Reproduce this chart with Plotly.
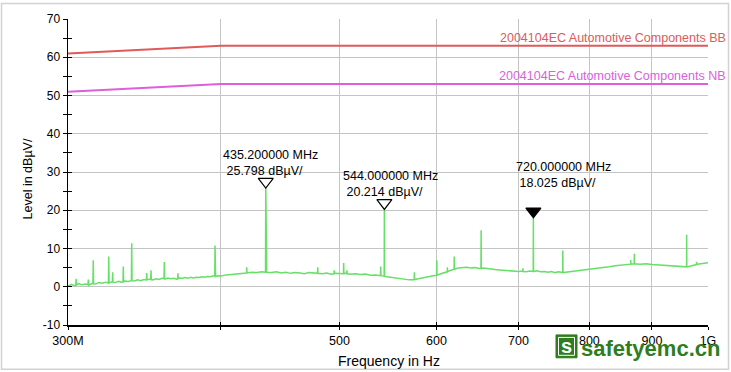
import numpy as np
import plotly.graph_objects as go

# ---------------- data ----------------
floor_freq = [300, 302, 304, 306, 308, 310, 312, 314, 316, 318, 320, 322, 324, 326, 328, 330,
              332, 334, 336, 338, 340, 342, 344, 346, 348, 350, 352, 354, 356, 358, 360, 362,
              364, 366, 368, 370, 372, 374, 376, 378, 380, 382, 384, 386, 388, 390, 392, 394,
              396, 398, 400, 404, 408, 412, 416, 420, 424, 428, 432, 436, 440, 444, 448, 452,
              456, 460, 464, 468, 472, 476, 480, 484, 488, 492, 496, 500, 505, 510, 515, 520,
              525, 530, 535, 540, 545, 550, 555, 560, 565, 570, 575, 580, 585, 590, 595, 600,
              605, 610, 615, 620, 625, 630, 635, 640, 645, 650, 655, 660, 665, 670, 675, 680,
              685, 690, 695, 700, 705, 710, 715, 720, 725, 730, 735, 740, 745, 750, 755, 760,
              765, 770, 775, 780, 785, 790, 795, 800, 810, 820, 830, 840, 850, 860, 870, 880,
              890, 900, 910, 920, 930, 940, 950, 960, 970, 980, 990, 1000]
floor_level = [0.2, 0.6, 0.3, 0.8, 0.5, 0.7, 0.4, 0.9, 0.7, 1.1, 0.9, 1.2, 1.0, 1.3, 1.1, 1.4,
               1.2, 1.5, 1.4, 1.7, 1.5, 1.8, 1.6, 1.9, 1.7, 2.0, 1.8, 2.1, 1.9, 2.2, 2.0, 2.3,
               2.1, 2.2, 2.0, 2.3, 2.2, 2.4, 2.2, 2.5, 2.3, 2.5, 2.4, 2.6, 2.5, 2.7, 2.6, 2.8,
               2.7, 2.9, 2.8, 3.1, 3.2, 3.4, 3.5, 3.6, 3.8, 3.7, 3.9, 3.8, 3.7, 3.9, 3.6, 3.8,
               3.5, 3.7, 3.6, 3.4, 3.7, 3.5, 3.6, 3.4, 3.6, 3.3, 3.5, 3.4, 3.5, 3.3, 3.4, 3.2,
               3.3, 3.0, 3.1, 2.9, 2.7, 2.5, 2.3, 2.1, 2.0, 1.8, 1.9, 2.1, 2.4, 2.6, 2.8, 3.0,
               3.4, 3.8, 4.2, 4.6, 4.9, 5.0, 5.1, 4.9, 5.0, 4.8, 4.9, 4.7, 4.6, 4.5, 4.4, 4.3,
               4.2, 4.1, 4.2, 4.0, 4.1, 3.9, 4.1, 4.0, 4.2, 3.9, 4.0, 3.8, 4.0, 3.7, 3.9, 3.7,
               3.8, 3.9, 4.0, 4.1, 4.3, 4.4, 4.5, 4.6, 4.8, 5.0, 5.2, 5.5, 5.7, 5.9, 6.0, 5.9,
               6.0, 5.8, 5.7, 5.6, 5.5, 5.4, 5.3, 5.2, 5.5, 5.9, 6.1, 6.3]

spike_freq = [304.6, 311.7, 314.6, 323.9, 326.3, 332.9, 338.2, 347.9, 350.7, 359.6, 368.9,
              395.6, 419.9, 435.2, 479.9, 495.0, 503.9, 507.0, 540.3, 544.0, 575.6, 600.4,
              612.5, 620.4, 652.6, 706.0, 720.0, 761.0, 864.7, 870.6, 960.7, 978.7]
spike_peak = [2.1, 1.9, 6.9, 7.9, 3.8, 5.3, 11.4, 3.6, 4.3, 6.5, 3.5,
              10.8, 5.1, 25.798, 5.1, 4.3, 6.2, 4.3, 5.3, 20.214, 3.8, 6.9,
              5.1, 7.9, 14.8, 4.8, 18.025, 9.5, 7.0, 8.6, 13.6, 6.5]
spike_base = [0.4, 0.5, 0.8, 1.0, 1.2, 1.3, 1.6, 1.8, 1.9, 2.1, 2.1,
              2.8, 3.6, 3.8, 3.5, 3.4, 3.4, 3.4, 2.9, 2.8, 1.9, 3.0,
              3.9, 4.6, 4.8, 4.0, 4.0, 3.7, 5.9, 6.0, 5.2, 5.8]

limit_freq = [300, 400, 1000]
limit_bb = [61, 63, 63]
limit_nb = [51, 53, 53]
limit_names = ["2004104EC Automotive Components BB", "2004104EC Automotive Components NB"]

marker_freq = [435.2, 544.0, 720.0]
marker_level = [25.798, 20.214, 18.025]
marker_filled = [False, False, True]

x_tickvals = [300, 400, 500, 600, 700, 800, 900, 1000]
x_ticktext = ["300M", "", "500", "600", "700", "800", "900", "1G"]
y_tickvals = [-10, 0, 10, 20, 30, 40, 50, 60, 70]
y_ticktext = ["-10", "0", "10", "20", "30", "40", "50", "60", "70"]
y_range = [-10, 70]
x_range = [300, 1000]

# ---------------- styles ----------------
FONT = "Liberation Sans, Arial, sans-serif"
GREEN = "#66e066"
RED = "#e05a5a"
MAGENTA = "#dc5fdc"
GRID = "#c4c4c4"
W, H = 731, 372
ML, MR, MT, MB = 68, 23, 17, 47
plot_w = W - ML - MR
plot_h = H - MT - MB
label_xshift = [5, 6, 30]
label_yshift = [25, 25.5, 43]

# ---------------- build the measured trace ----------------
w = 0.2
pts = [(f, v) for f, v in zip(floor_freq, floor_level)
       if all(abs(f - s) > w for s in spike_freq)]
for f, p, b in zip(spike_freq, spike_peak, spike_base):
    pts += [(f - w, b), (f, p), (f + w, b)]
pts.sort()
trace_f = [p[0] for p in pts]
trace_v = [p[1] for p in pts]

fig = go.Figure()

fig.add_trace(go.Scatter(x=limit_freq, y=limit_bb, mode="lines",
                         line=dict(color=RED, width=2), hoverinfo="skip"))
fig.add_trace(go.Scatter(x=limit_freq, y=limit_nb, mode="lines",
                         line=dict(color=MAGENTA, width=2), hoverinfo="skip"))
fig.add_trace(go.Scatter(x=trace_f, y=trace_v, mode="lines",
                         line=dict(color=GREEN, width=1.5), hoverinfo="skip"))

# marker triangles sitting just above the peaks
units_per_px = (y_range[1] - y_range[0]) / plot_h
tri_off = 6.5 * units_per_px
fig.add_trace(go.Scatter(
    x=marker_freq,
    y=[v + tri_off for v in marker_level],
    mode="markers",
    marker=dict(symbol=["triangle-down" if m else "triangle-down-open" for m in marker_filled],
                size=13, color="black", line=dict(color="black", width=1.2)),
    hoverinfo="skip"))

# dummy trace for overlay axes (crossing ticks)
fig.add_trace(go.Scatter(x=[None], y=[None], xaxis="x2", yaxis="y2", hoverinfo="skip"))

annotations = []
for f, v, xs, ys in zip(marker_freq, marker_level, label_xshift, label_yshift):
    annotations.append(dict(
        x=np.log10(f), y=v, xref="x", yref="y",
        text=f"{f:.6f} MHz<br>\u00a0{v:.3f} dBµV/",
        showarrow=False, align="left", xanchor="center", yanchor="middle",
        xshift=xs, yshift=ys, font=dict(family=FONT, size=12.5, color="black")))

for name, vals, col in zip(limit_names, [limit_bb, limit_nb], [RED, MAGENTA]):
    annotations.append(dict(
        x=(W - 3 - ML) / plot_w, y=vals[-1], xref="paper", yref="y",
        text=name, showarrow=False, xanchor="right", yanchor="bottom",
        yshift=-1, font=dict(family=FONT, size=12.5, color=col)))

# axis titles
annotations.append(dict(x=(389 - ML) / plot_w, y=(plot_h + MT - 361) / plot_h,
                        xref="paper", yref="paper", text="Frequency in Hz",
                        showarrow=False, xanchor="center", yanchor="middle",
                        font=dict(family=FONT, size=14, color="black")))
annotations.append(dict(x=(27.5 - ML) / plot_w, y=(plot_h + MT - 178) / plot_h,
                        xref="paper", yref="paper", text="Level in dBµV/",
                        textangle=-90, showarrow=False, xanchor="center", yanchor="middle",
                        font=dict(family=FONT, size=12.5, color="black")))

# watermark
WM = "#2e7d1e"
def px_x(p):
    return (p - ML) / plot_w
def px_y(p):
    return (plot_h + MT - p) / plot_h

annotations.append(dict(x=px_x(579), y=px_y(349), xref="paper", yref="paper",
                        text="<b>safetyemc.cn</b>", showarrow=False,
                        xanchor="left", yanchor="middle",
                        font=dict(family=FONT, size=22, color=WM)))
annotations.append(dict(x=px_x(566.5), y=px_y(346), xref="paper", yref="paper",
                        text="<b>s</b>", showarrow=False,
                        xanchor="center", yanchor="middle",
                        font=dict(family=FONT, size=20, color="white")))

shapes = [
    dict(type="rect", xref="paper", yref="paper",
         x0=px_x(1.5), x1=px_x(728.5), y0=px_y(369.5), y1=px_y(1.5),
         line=dict(color="#d2d2d2", width=1.5), fillcolor="rgba(0,0,0,0)", layer="below"),
    dict(type="rect", xref="paper", yref="paper",
         x0=px_x(556), x1=px_x(577), y0=px_y(358), y1=px_y(335),
         line=dict(color=WM, width=1), fillcolor=WM, layer="above"),
    dict(type="rect", xref="paper", yref="paper",
         x0=px_x(558.5), x1=px_x(574.5), y0=px_y(355.5), y1=px_y(337.5),
         line=dict(color="white", width=1), fillcolor="rgba(0,0,0,0)", layer="above"),
]

xr = [np.log10(x_range[0]), np.log10(x_range[1])]
fig.update_layout(
    width=W, height=H,
    margin=dict(l=ML, r=MR, t=MT, b=MB, pad=0),
    paper_bgcolor="white", plot_bgcolor="white",
    showlegend=False, hovermode=False,
    font=dict(family=FONT, size=12, color="black"),
    xaxis=dict(type="log", range=xr, tickvals=x_tickvals, ticktext=x_ticktext,
               showgrid=True, gridcolor=GRID, gridwidth=1,
               showline=True, linecolor="black", linewidth=1.5,
               ticks="outside", ticklen=3, tickcolor="black", tickwidth=1,
               tickfont=dict(family=FONT, size=12.5), zeroline=False, fixedrange=True),
    yaxis=dict(range=y_range, tickvals=y_tickvals, ticktext=y_ticktext,
               showgrid=True, gridcolor=GRID, gridwidth=1,
               showline=True, linecolor="black", linewidth=1.5,
               ticks="outside", ticklen=4, tickcolor="black", tickwidth=1,
               minor=dict(dtick=5, ticks="outside", ticklen=4, tickcolor="black", showgrid=False),
               tickfont=dict(family=FONT, size=12), zeroline=False, fixedrange=True),
    xaxis2=dict(type="log", range=xr, tickvals=x_tickvals, overlaying="x", anchor="y",
                side="bottom", showgrid=False, showline=False, showticklabels=False,
                ticks="inside", ticklen=3, tickcolor="black", zeroline=False),
    yaxis2=dict(range=y_range, dtick=10, tick0=0, overlaying="y", anchor="x", side="left",
                showgrid=False, showline=False, showticklabels=False,
                ticks="inside", ticklen=4, tickcolor="black",
                minor=dict(dtick=5, ticks="inside", ticklen=4, tickcolor="black", showgrid=False),
                zeroline=False),
    annotations=annotations,
    shapes=shapes,
)

fig.write_html("out.html", config={"displayModeBar": False, "staticPlot": True},
               post_script="document.body.style.margin='0';document.body.style.padding='0';")
